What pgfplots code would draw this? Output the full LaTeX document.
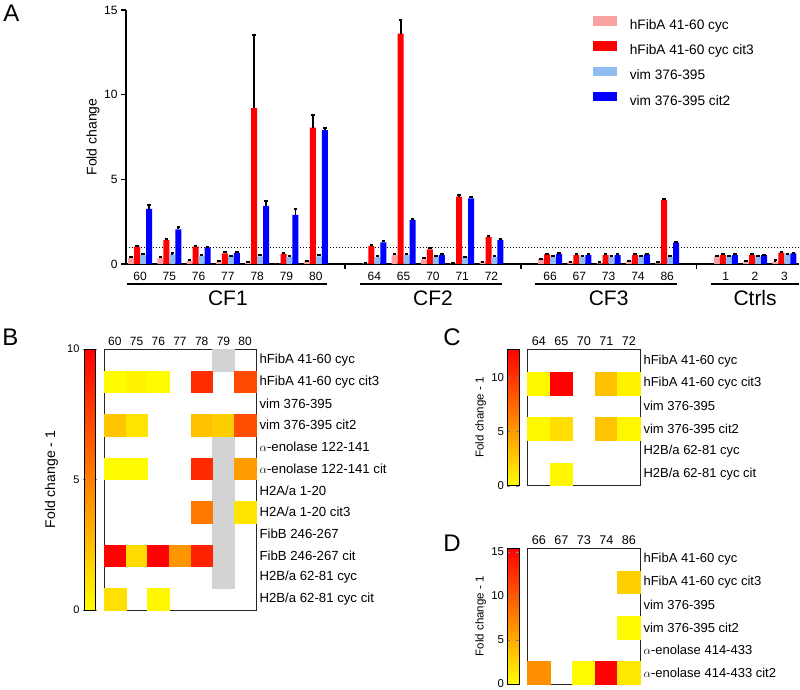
\documentclass[border=0pt]{standalone}
\usepackage{pgfplots}
\pgfplotsset{compat=1.18}
\usepackage{pgfplotstable}
\usepackage{fontspec}
\setmainfont{Liberation Sans}

\definecolor{cPink}{RGB}{250,162,162}
\definecolor{cRed}{RGB}{255,0,0}
\definecolor{cLBlue}{RGB}{143,188,242}
\definecolor{cBlue}{RGB}{0,0,255}
\definecolor{cGray}{RGB}{211,211,211}

% panel A: fold change per donor, +error (plus direction only)
% x: 0-6 CF1, 8-12 CF2, 14-18 CF3, 20-22 Ctrls
\pgfplotstableread{
x  pk   pkE  rd   rdE  lb   lbE  bl   blE
0  0.35 0.06 1.02 0.06 0.53 0.07 3.25 0.25
1  0.35 0.06 1.42 0.06 0.55 0.08 2.05 0.12
2  0.18 0.05 1.02 0.04 0.50 0.06 0.98 0.04
3  0.12 0.05 0.63 0.05 0.45 0.05 0.65 0.05
4  0.08 0.05 9.20 4.30 0.45 0.06 3.42 0.30
5  0.02 0.00 0.60 0.05 0.42 0.05 2.90 0.35
6  0.15 0.05 8.05 0.75 0.45 0.06 7.90 0.15
8  0.03 0.05 1.06 0.06 0.40 0.06 1.28 0.07
9  0.53 0.07 13.6 0.80 0.53 0.07 2.60 0.07
10 0.28 0.06 0.87 0.08 0.40 0.05 0.53 0.05
11 0.03 0.04 3.98 0.07 0.42 0.00 3.88 0.08
12 0.14 0.00 1.58 0.07 0.42 0.06 1.42 0.08
14 0.30 0.00 0.57 0.05 0.40 0.05 0.60 0.05
15 0.12 0.00 0.53 0.05 0.43 0.05 0.53 0.05
16 0.03 0.06 0.53 0.05 0.43 0.05 0.52 0.05
17 0.16 0.00 0.53 0.05 0.43 0.05 0.57 0.05
18 0.04 0.07 3.78 0.05 0.40 0.05 1.26 0.06
20 0.43 0.05 0.53 0.05 0.43 0.05 0.53 0.05
21 0.14 0.06 0.53 0.05 0.43 0.05 0.52 0.04
22 0.14 0.10 0.67 0.05 0.57 0.04 0.63 0.04
}\barsA

% heatmaps: column, row, fold change - 1
\pgfplotstableread{
x y v
1 2 0.10
2 2 0.45
3 2 0.10
5 2 8.20
7 2 7.05
1 4 2.25
2 4 1.05
5 4 2.42
6 4 1.90
7 4 6.90
1 6 0.15
2 6 0.15
5 6 8.30
7 6 3.80
5 8 5.20
7 8 1.00
1 10 9.80
2 10 1.40
3 10 9.90
4 10 4.10
5 10 8.60
1 12 1.20
3 12 0.30
}\heatB
\pgfplotstableread{
x y
6 1
6 5
6 6
6 7
6 8
6 9
6 10
6 11
}\grayB
\pgfplotstableread{
x y v
1 2 0.30
2 2 12.6
4 2 3.00
5 2 0.60
1 4 0.30
2 4 1.60
4 4 2.90
5 4 0.45
2 6 0.40
}\heatC
\pgfplotstableread{
x y v
5 2 2.80
5 4 0.30
1 6 6.80
3 6 0.20
4 6 15.4
5 6 1.40
}\heatD

\pgfplotsset{
  /pgf/number format/assume math mode=true,
  barleg/.style={legend image code/.code={\fill[##1] (0pt,0.2pt) rectangle (24pt,9.7pt); \path (36.5pt,0pt);}},
  abar/.style={ybar, bar width=6pt, bar shift=0pt, fill=#1, draw=none, barleg},
  errs/.style={forget plot, draw=none, mark=none,
    /pgfplots/error bars/y dir=plus, /pgfplots/error bars/y explicit,
    /pgfplots/error bars/error bar style={draw=black, line width=1.8pt, solid},
    /pgfplots/error bars/error mark options={draw=black, rotate=90, mark size=1.8pt, line width=2pt}},
  heatax/.style={scale only axis, xmin=0.5, ymin=0.5, y dir=reverse,
    axis line style={line width=0.8pt, black!85},
    major tick length=0pt, xticklabel pos=upper, yticklabel pos=right,
    colormap={autumnr}{rgb255=(255,255,0) rgb255=(255,0,0)},
    colorbar left},
  hcells/.style={scatter, only marks, mark=square*, mark size=#1,
    scatter/use mapped color={draw=mapped color, fill=mapped color},
    point meta=explicit},
  hgray/.style={only marks, mark=square*, mark size=#1,
    mark options={fill=cGray, draw=cGray}},
}

\begin{document}
\begin{tikzpicture}
\useasboundingbox (0,0) rectangle (800pt,689pt);

% ---------------- A ----------------
\begin{axis}[
  scale only axis, at={(126pt,425pt)}, anchor=south west,
  width=673pt, height=254pt,
  xmin=-0.48, xmax=22.5, ymin=0, ymax=15,
  axis x line*=bottom, axis y line*=left,
  axis line style={-, line width=1.5pt},
  clip=false,
  ytick={0,5,10,15},
  xtick={0,1,2,3,4,5,6,8,9,10,11,12,14,15,16,17,18,20,21,22},
  xticklabels={60,75,76,77,78,79,80,64,65,70,71,72,66,67,73,74,86,1,2,3},
  x tick style={draw=none},
  y tick style={line width=1.5pt, black},
  tick align=outside, major tick length=5pt,
  extra x ticks={7,13,19}, extra x tick labels={},
  extra x tick style={x tick style={draw=black, line width=1.5pt}},
  tick label style={font=\fontsize{12}{14}\selectfont},
  ylabel={Fold change},
  ylabel style={font=\fontsize{14}{16}\selectfont, at={(axis description cs:-0.049,0.5)}, anchor=center},
  legend cell align=left,
  legend style={at={(axis description cs:0.694,0.976)}, anchor=north west,
    draw=none, fill=none, inner sep=0pt, row sep=9pt,
    font=\fontsize{13.7}{16}\selectfont,
    nodes={inner sep=0pt, text height=10pt, text depth=3pt}},
]
\addplot[forget plot, black, line width=1pt, dash pattern=on 1pt off 2pt] coordinates {(-0.48,1) (22.5,1)};
\addplot[abar=cPink] table[x expr=\thisrow{x}-0.307, y=pk] {\barsA};
\addlegendentry{hFibA 41-60 cyc}
\addplot[abar=cRed] table[x expr=\thisrow{x}-0.102, y=rd] {\barsA};
\addlegendentry{hFibA 41-60 cyc cit3}
\addplot[abar=cLBlue] table[x expr=\thisrow{x}+0.102, y=lb] {\barsA};
\addlegendentry{vim 376-395}
\addplot[abar=cBlue] table[x expr=\thisrow{x}+0.307, y=bl] {\barsA};
\addlegendentry{vim 376-395 cit2}
% error bars (upper direction only)
\addplot[errs] table[x expr=\thisrow{x}-0.307, y=pk, y error=pkE] {\barsA};
\addplot[errs] table[x expr=\thisrow{x}-0.102, y=rd, y error=rdE] {\barsA};
\addplot[errs] table[x expr=\thisrow{x}+0.102, y=lb, y error=lbE] {\barsA};
\addplot[errs] table[x expr=\thisrow{x}+0.307, y=bl, y error=blE] {\barsA};

\draw[line width=1.2pt] ([yshift=-20pt]axis cs:-0.44,0) -- ([yshift=-20pt]axis cs:6.38,0);
\draw[line width=1.2pt] ([yshift=-20pt]axis cs:7.52,0) -- ([yshift=-20pt]axis cs:12.36,0);
\draw[line width=1.2pt] ([yshift=-20pt]axis cs:13.48,0) -- ([yshift=-20pt]axis cs:18.33,0);
\draw[line width=1.2pt] ([yshift=-20pt]axis cs:19.49,0) -- ([yshift=-20pt]axis cs:22.5,0);
\node[font=\fontsize{21}{24}\selectfont] at ([yshift=-34pt]axis cs:3,0) {CF1};
\node[font=\fontsize{21}{24}\selectfont] at ([yshift=-34pt]axis cs:10,0) {CF2};
\node[font=\fontsize{21}{24}\selectfont] at ([yshift=-34pt]axis cs:16,0) {CF3};
\node[font=\fontsize{21}{24}\selectfont] at ([yshift=-34pt]axis cs:21,0) {Ctrls};
\end{axis}

% ---------------- B ----------------
\begin{axis}[heatax, at={(104pt,79pt)}, anchor=south west,
  width=152pt, height=261pt, xmax=7.5, ymax=12.5,
  xtick={1,...,7}, xticklabels={60,75,76,77,78,79,80},
  ytick={1,...,12},
  yticklabels={hFibA 41-60 cyc, hFibA 41-60 cyc cit3, vim 376-395, vim 376-395 cit2,
    $\alpha$-enolase 122-141, $\alpha$-enolase 122-141 cit, H2A/a 1-20, H2A/a 1-20 cit3,
    FibB 246-267, FibB 246-267 cit, H2B/a 62-81 cyc, H2B/a 62-81 cyc cit},
  xticklabel style={font=\fontsize{12}{14}\selectfont},
  yticklabel style={font=\fontsize{13.2}{15}\selectfont},
  point meta min=0, point meta max=10,
  colorbar style={at={([xshift=-8.3pt]parent axis.south west)}, anchor=south east,
    width=11pt, ytick={0,5,10}, axis line style={line width=0.8pt},
    major tick length=3pt, tick align=center,
    yticklabel style={font=\fontsize{11}{13}\selectfont},
    ylabel={Fold change - 1},
    ylabel style={font=\fontsize{14}{16}\selectfont, at={(axis description cs:-3,0.5)}, anchor=center}},
]
\addplot[hgray=10.85pt] table[x=x, y=y] {\grayB};
\addplot[hcells=10.85pt] table[x=x, y=y, meta=v] {\heatB};
\end{axis}

% ---------------- C ----------------
\begin{axis}[heatax, at={(527.7pt,203.3pt)}, anchor=south west,
  width=112.3pt, height=136.4pt, xmax=5.5, ymax=6.5,
  xtick={1,...,5}, xticklabels={64,65,70,71,72},
  ytick={1,...,6},
  yticklabels={hFibA 41-60 cyc, hFibA 41-60 cyc cit3, vim 376-395, vim 376-395 cit2,
    H2B/a 62-81 cyc, H2B/a 62-81 cyc cit},
  xticklabel style={font=\fontsize{12.6}{15}\selectfont},
  yticklabel style={font=\fontsize{13}{15}\selectfont},
  point meta min=0, point meta max=12.6,
  colorbar style={at={([xshift=-8.7pt]parent axis.south west)}, anchor=south east,
    width=11.7pt, ytick={0,5,10}, axis line style={line width=0.8pt},
    major tick length=3pt, tick align=inside,
    yticklabel style={font=\fontsize{11.4}{13}\selectfont},
    ylabel={Fold change - 1},
    ylabel style={font=\fontsize{11.5}{13}\selectfont, at={(axis description cs:-2.3,0.5)}, anchor=center}},
]
\addplot[hcells=11.3pt] table[x=x, y=y, meta=v] {\heatC};
\end{axis}

% ---------------- D ----------------
\begin{axis}[heatax, at={(527.7pt,5pt)}, anchor=south west,
  width=112.3pt, height=135.7pt, xmax=5.5, ymax=6.5,
  xtick={1,...,5}, xticklabels={66,67,73,74,86},
  ytick={1,...,6},
  yticklabels={hFibA 41-60 cyc, hFibA 41-60 cyc cit3, vim 376-395, vim 376-395 cit2,
    $\alpha$-enolase 414-433, $\alpha$-enolase 414-433 cit2},
  xticklabel style={font=\fontsize{12.6}{15}\selectfont},
  yticklabel style={font=\fontsize{13}{15}\selectfont},
  point meta min=0, point meta max=15.4,
  colorbar style={at={([xshift=-8.7pt]parent axis.south west)}, anchor=south east,
    width=11.7pt, ytick={0,5,10,15}, axis line style={line width=0.8pt},
    major tick length=3pt, tick align=inside,
    yticklabel style={font=\fontsize{11.4}{13}\selectfont},
    ylabel={Fold change - 1},
    ylabel style={font=\fontsize{11.5}{13}\selectfont, at={(axis description cs:-2.3,0.5)}, anchor=center}},
]
\addplot[hcells=11.27pt] table[x=x, y=y, meta=v] {\heatD};
\end{axis}

% panel letters
\node[font=\fontsize{24}{28}\selectfont] at (11.5pt,676pt) {A};
\node[font=\fontsize{24}{28}\selectfont] at (10.5pt,352pt) {B};
\node[font=\fontsize{24}{28}\selectfont] at (452pt,352pt) {C};
\node[font=\fontsize{24}{28}\selectfont] at (452pt,145.5pt) {D};
\end{tikzpicture}
\end{document}
